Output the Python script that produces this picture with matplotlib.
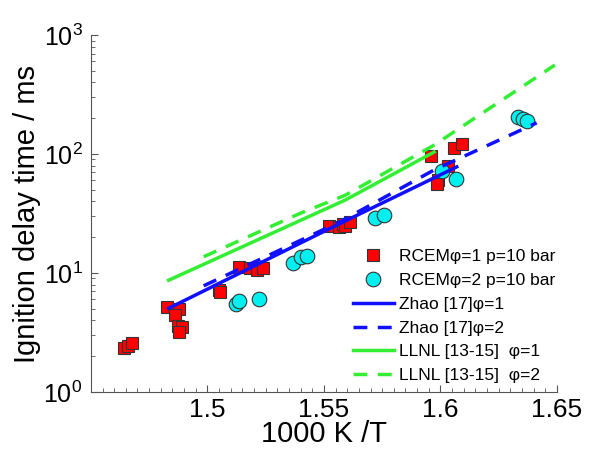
import numpy as np
import matplotlib.pyplot as plt
from matplotlib.ticker import MultipleLocator, LogLocator, NullFormatter

plt.rcParams['font.family'] = ['Liberation Sans', 'DejaVu Sans']
plt.rcParams['mathtext.fontset'] = 'custom'
plt.rcParams['mathtext.rm'] = 'Liberation Sans'

# RCEM phi=1, p=10 bar
rcem1_x = [1.4641, 1.4660, 1.4677, 1.4827, 1.4880, 1.4859, 1.4873, 1.4892, 1.4877,
           1.5049, 1.5054, 1.5134, 1.5184, 1.5213, 1.5239, 1.5520, 1.5563, 1.5580,
           1.5591, 1.5610, 1.5959, 1.5988, 1.5985, 1.6034, 1.6059, 1.6092]
rcem1_y = [2.33, 2.45, 2.57, 5.15, 4.95, 4.44, 3.59, 3.54, 3.21,
           7.2, 6.9, 11.3, 11.1, 10.6, 11.1, 24.8, 24.5, 26.0,
           24.8, 27.0, 96.0, 60.5, 56.0, 79.0, 112.0, 121.0]

# RCEM phi=2, p=10 bar
rcem2_x = [1.5124, 1.5134, 1.5220, 1.5366, 1.5403, 1.5427, 1.5720, 1.5756,
           1.6006, 1.6067, 1.6334, 1.6356, 1.6370]
rcem2_y = [5.5, 5.8, 6.0, 12.2, 13.7, 13.9, 28.8, 30.7,
           72.0, 61.7, 203.0, 196.0, 190.0]

# Zhao [17]
zhao1_x = [1.4834, 1.5541, 1.6070]
zhao1_y = [5.05, 24.5, 78.0]
zhao2_x = [1.4984, 1.5570, 1.5970, 1.6413]
zhao2_y = [7.8, 27.0, 73.0, 183.0]

# LLNL [13-15]
llnl1_x = [1.4834, 1.5591, 1.5973]
llnl1_y = [8.7, 41.0, 104.0]
llnl2_x = [1.4984, 1.5399, 1.5591, 1.5970, 1.6491]
llnl2_y = [13.7, 31.8, 45.0, 118.0, 560.0]

fig = plt.figure(figsize=(5.9, 4.5), dpi=100)
ax = fig.add_axes([0.154, 0.129, 0.79, 0.793])

ax.plot(rcem1_x, rcem1_y, 's', color='#ff0000', markeredgecolor='#333333',
        markeredgewidth=0.8, markersize=9, label='RCEMφ=1 p=10 bar')
ax.plot(rcem2_x, rcem2_y, 'o', color='#00f0f0', markeredgecolor='#333333',
        markeredgewidth=0.8, markersize=10.5, label='RCEMφ=2 p=10 bar')
ax.plot(zhao1_x, zhao1_y, '-', color='#1010ff', lw=2.5, label='Zhao [17]φ=1')
ax.plot(zhao2_x, zhao2_y, '--', color='#1010ff', lw=2.5, dashes=(4, 3), label='Zhao [17]φ=2')
ax.plot(llnl1_x, llnl1_y, '-', color='#33ee33', lw=2.5, label='LLNL [13-15]  φ=1')
ax.plot(llnl2_x, llnl2_y, '--', color='#33ee33', lw=2.5, dashes=(4, 3), label='LLNL [13-15]  φ=2')

ax.set_yscale('log')
ax.set_xlim(1.45, 1.65)
ax.set_ylim(1, 1000)
ax.set_xticks([1.5, 1.55, 1.6, 1.65])
ax.set_xticklabels(['1.5', '1.55', '1.6', '1.65'])
ax.xaxis.set_minor_locator(MultipleLocator(0.005))
ax.set_yticks([1, 10, 100, 1000])
ax.set_yticklabels(['$10^{0}$', '$10^{1}$', '$10^{2}$', '$10^{3}$'])
ax.yaxis.set_minor_locator(LogLocator(base=10, subs=np.arange(2, 10)))
ax.yaxis.set_minor_formatter(NullFormatter())

ax.spines['top'].set_visible(False)
ax.spines['right'].set_visible(False)
for s in ['left', 'bottom']:
    ax.spines[s].set_color('#555555')
ax.tick_params(which='both', direction='in', colors='#555555', labelcolor='black')
ax.tick_params(which='major', length=5, pad=6)
ax.tick_params(axis='x', which='major', labelsize=19, pad=4)
ax.tick_params(axis='y', which='major', labelsize=18)
ax.tick_params(which='minor', length=3)

ax.set_xlabel('1000 K /T', fontsize=21, labelpad=-1)
ax.set_ylabel('Ignition delay time / ms', fontsize=21, labelpad=2)

ax.legend(loc='lower right', bbox_to_anchor=(1.02, -0.005), frameon=False, fontsize=12.5,
          handlelength=2.4, handletextpad=0.3, labelspacing=0.5, borderaxespad=0.2)

fig.savefig('out.png', dpi=100)
